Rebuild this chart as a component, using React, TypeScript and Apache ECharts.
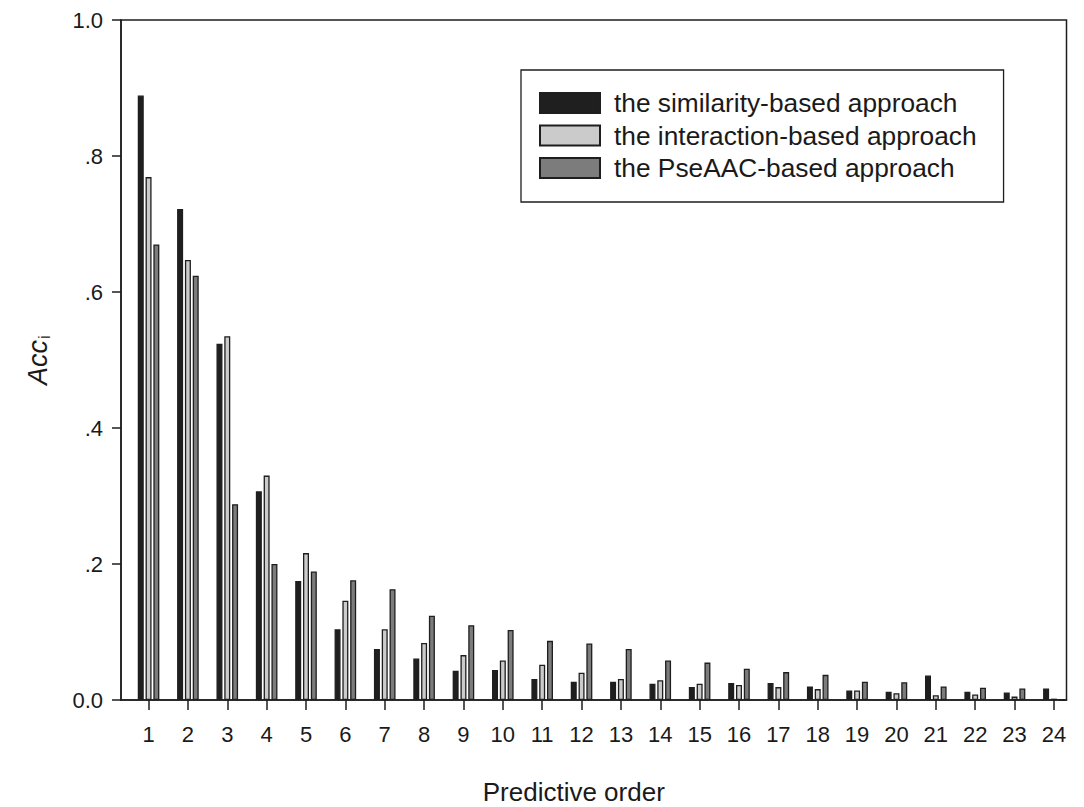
import React, { useEffect, useRef } from "react";
import * as echarts from "echarts";

const orders = [1, 2, 3, 4, 5, 6, 7, 8, 9, 10, 11, 12, 13, 14, 15, 16, 17, 18, 19, 20, 21, 22, 23, 24];
const similarity = [0.889, 0.722, 0.524, 0.307, 0.175, 0.104, 0.075, 0.061, 0.043, 0.044, 0.031, 0.027, 0.027, 0.024, 0.019, 0.025, 0.025, 0.020, 0.014, 0.012, 0.036, 0.012, 0.011, 0.017];
const interaction = [0.769, 0.647, 0.535, 0.330, 0.216, 0.146, 0.104, 0.084, 0.066, 0.058, 0.052, 0.040, 0.031, 0.029, 0.024, 0.022, 0.019, 0.016, 0.014, 0.010, 0.007, 0.008, 0.005, 0.002];
const pseaac = [0.670, 0.624, 0.288, 0.200, 0.189, 0.176, 0.163, 0.124, 0.110, 0.103, 0.087, 0.083, 0.075, 0.058, 0.055, 0.046, 0.041, 0.037, 0.027, 0.026, 0.020, 0.018, 0.017, 0.0];
const seriesNames = ["the similarity-based approach", "the interaction-based approach", "the PseAAC-based approach"];
const yTicks = [0, 0.2, 0.4, 0.6, 0.8, 1.0];

const FONT = "'Liberation Sans', Arial, sans-serif";
const INK = "#1e1e1e";

export default function App() {
  const ref = useRef<HTMLDivElement>(null);
  useEffect(() => {
    document.body.style.margin = "0";
    const chart = echarts.init(ref.current!, null, { renderer: "svg" });
    const fills = ["#1f1f1f", "#cbcbcb", "#7c7c7c"];
    const datasets = [similarity, interaction, pseaac];
    const series = datasets.map((d, i) => ({
      name: seriesNames[i],
      type: "bar",
      data: orders.map((o, k) => [o, d[k]]),
      barWidth: 6,
      barGap: "30%",
      itemStyle: { color: fills[i], borderColor: INK, borderWidth: 1.3 },
    }));
    chart.setOption({
      animation: false,
      backgroundColor: "#ffffff",
      textStyle: { fontFamily: FONT },
      grid: {
        left: 121,
        right: 17.5,
        top: 20,
        bottom: 107,
        outerBoundsMode: "none",
        containLabel: false,
        show: true,
        borderColor: INK,
        borderWidth: 1.5,
        backgroundColor: "transparent",
      },
      legend: {
        orient: "vertical",
        left: 521,
        top: 70,
        padding: [20, 27, 21, 18],
        itemWidth: 60,
        itemHeight: 20,
        itemGap: 6.5,
        borderColor: INK,
        borderWidth: 1.3,
        icon: "rect",
        textStyle: { fontSize: 26.3, color: "#1a1a1a", fontFamily: FONT, padding: [0, 0, 0, 9] },
        data: seriesNames,
      },
      xAxis: {
        type: "value",
        min: 0.3,
        max: 24.32,
        name: "Predictive order",
        nameLocation: "middle",
        nameGap: 79,
        nameTextStyle: { fontSize: 26, color: "#1a1a1a", fontFamily: FONT, padding: [0, 40, 0, 0] },
        splitLine: { show: false },
        axisLine: { show: true, lineStyle: { color: INK, width: 1.5 } },
        axisTick: { show: true, length: 10, customValues: orders, lineStyle: { color: INK, width: 1.5 } },
        axisLabel: {
          customValues: orders,
          fontSize: 22,
          color: "#1a1a1a",
          margin: 23,
          fontFamily: FONT,
        },
      },
      yAxis: {
        type: "value",
        min: 0,
        max: 1,
        interval: 0.2,
        name: "{a|Acc}{b|i}",
        nameLocation: "middle",
        nameGap: 68,
        nameTextStyle: {
          rich: {
            a: { fontSize: 27, fontStyle: "italic", color: "#1a1a1a", fontFamily: FONT },
            b: { fontSize: 17, color: "#1a1a1a", fontFamily: FONT, padding: [14, 0, 0, 1] },
          },
        },
        splitLine: { show: false },
        axisLine: { show: true, lineStyle: { color: INK, width: 1.5 } },
        axisTick: { show: true, length: 9, lineStyle: { color: INK, width: 1.5 } },
        axisLabel: {
          fontSize: 22,
          color: "#1a1a1a",
          margin: 18,
          fontFamily: FONT,
          formatter: (v: number) => {
            const t = yTicks.find((y) => Math.abs(y - v) < 1e-6);
            if (t === undefined) return "";
            if (t === 0) return "0.0";
            if (t === 1) return "1.0";
            return t.toFixed(1).replace(/^0/, "");
          },
        },
      },
      series,
    });
    return () => chart.dispose();
  }, []);
  return (
    <div
      ref={ref}
      style={{ position: "fixed", left: 0, top: 0, width: 1084, height: 807 }}
    />
  );
}
